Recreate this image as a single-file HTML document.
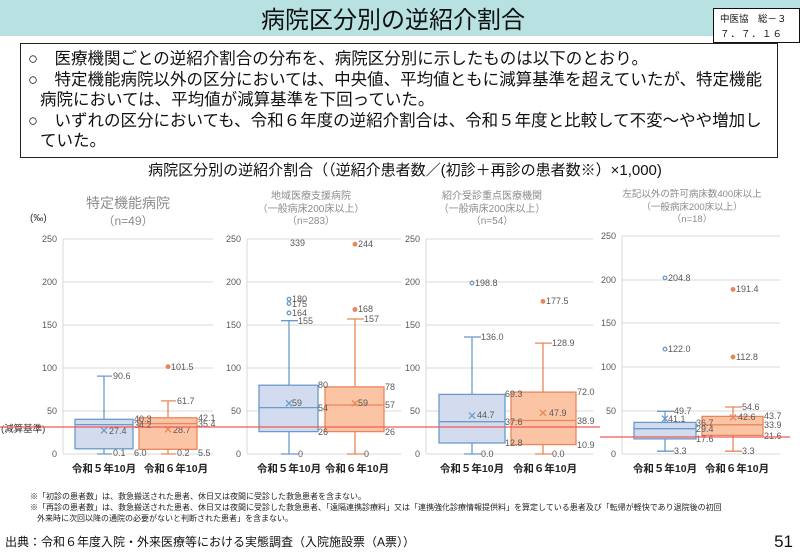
<!DOCTYPE html>
<html><head><meta charset="utf-8"><style>
body{margin:0;width:800px;height:554px;background:#fff;overflow:hidden;font-family:"Liberation Sans","Noto Sans CJK JP",sans-serif;}
svg{position:absolute;left:0;top:0}
</style></head><body>
<svg width="800" height="554" viewBox="0 0 800 554" font-family="Liberation Sans, Noto Sans CJK JP, sans-serif">
<rect x="0" y="0" width="800" height="36" fill="#b8e1e1"/>
<text x="393" y="28" font-size="24" text-anchor="middle" fill="#111">病院区分別の逆紹介割合</text>
<rect x="713.5" y="8.5" width="86" height="34" fill="#fff" stroke="#111"/>
<text x="720" y="22" font-size="9.5" fill="#111">中医協　総－３</text>
<text x="720" y="37" font-size="9.5" fill="#111" letter-spacing="1">７．７．１６</text>
<rect x="20.5" y="43.5" width="757" height="114" fill="#fff" stroke="#222"/>
<g font-size="16.5" fill="#111">
<text x="28" y="64">○　医療機関ごとの逆紹介割合の分布を、病院区分別に示したものは以下のとおり。</text>
<text x="28" y="85">○　特定機能病院以外の区分においては、中央値、平均値ともに減算基準を超えていたが、特定機能</text>
<text x="40" y="105">病院においては、平均値が減算基準を下回っていた。</text>
<text x="28" y="126">○　いずれの区分においても、令和６年度の逆紹介割合は、令和５年度と比較して不変～やや増加し</text>
<text x="40" y="146">ていた。</text>
</g>
<text x="405" y="175" font-size="15" text-anchor="middle" fill="#111">病院区分別の逆紹介割合（（逆紹介患者数／(初診＋再診の患者数※）×1,000)</text>

<!-- grids -->
<g stroke="#d9d9d9" stroke-width="1">
<path d="M63 239H213M63 282H213M63 325H213M63 368H213M63 411H213M63 454H213"/>
<path d="M247 239H401M247 282H401M247 325H401M247 368H401M247 411H401M247 454H401"/>
<path d="M426 239H593M426 282H593M426 325H593M426 368H593M426 411H593M426 454H593"/>
<path d="M622 236H780M622 280H780M622 323H780M622 367H780M622 411H780M622 454H780"/>
<path d="M247 239V454M426 239V454M622 236V454M63 239V454"/>
</g>
<g font-size="9" fill="#595959" text-anchor="end">
<text x="57" y="242">250</text><text x="57" y="285">200</text><text x="57" y="328">150</text><text x="57" y="371">100</text><text x="57" y="414">50</text><text x="57" y="457">0</text>
<text x="241" y="242">250</text><text x="241" y="285">200</text><text x="241" y="328">150</text><text x="241" y="371">100</text><text x="241" y="414">50</text><text x="241" y="457">0</text>
<text x="420" y="242">250</text><text x="420" y="285">200</text><text x="420" y="328">150</text><text x="420" y="371">100</text><text x="420" y="414">50</text><text x="420" y="457">0</text>
<text x="616" y="239">250</text><text x="616" y="283">200</text><text x="616" y="326">150</text><text x="616" y="370">100</text><text x="616" y="414">50</text><text x="616" y="457">0</text>
</g>
<!-- titles -->
<g fill="#8c8c8c" text-anchor="middle">
<text x="128" y="208" font-size="14">特定機能病院</text>
<text x="128" y="225" font-size="12">（n=49）</text>
<text x="311" y="199" font-size="10">地域医療支援病院</text>
<text x="311" y="212" font-size="10">（一般病床200床以上）</text>
<text x="311" y="224" font-size="10">（n=283）</text>
<text x="492" y="199" font-size="10">紹介受診重点医療機関</text>
<text x="492" y="212" font-size="10">（一般病床200床以上）</text>
<text x="492" y="224" font-size="10">（n=54）</text>
<text x="692" y="197" font-size="9.5">左記以外の許可病床数400床以上</text>
<text x="692" y="210" font-size="9.5">（一般病床200床以上）</text>
<text x="692" y="222" font-size="9.5">（n=18）</text>
</g>
<text x="30" y="221" font-size="10" fill="#333">(‰)</text>
<text x="1" y="432" font-size="9.5" fill="#333">(減算基準)</text>

<!-- Chart1 -->
<g stroke="#6a9bc9" stroke-width="1.3" fill="none">
<path d="M104 376.1V419.3M97 376.1H112M104 448.8V454M97 454H112"/>
<rect x="75" y="419.3" width="58" height="29.5" fill="#d3dcee"/>
<path d="M75 424.6H133"/><path d="M101 427.4l6 6M107 427.4l-6 6"/>
</g>
<g stroke="#e8875a" stroke-width="1.3" fill="none">
<path d="M168 400.9V417.8M161 400.9H176M168 449.3V454M161 454H176"/>
<rect x="139" y="417.8" width="58" height="31.5" fill="#fbc4a4"/>
<path d="M139 423.6H197"/><path d="M165 426.3l6 6M171 426.3l-6 6"/>
<circle cx="168" cy="366.7" r="1.8" fill="#e8875a"/>
</g>
<g font-size="9" fill="#595959">
<text x="113" y="379">90.6</text><text x="134" y="422">40.3</text><text x="134" y="428">34.2</text><text x="109" y="434">27.4</text><text x="113" y="456">0.1</text><text x="134" y="456">6.0</text>
<text x="171" y="370">101.5</text><text x="177" y="404">61.7</text><text x="198" y="421">42.1</text><text x="198" y="427">35.4</text><text x="173" y="433">28.7</text><text x="177" y="456">0.2</text><text x="198" y="456">5.5</text>
</g>

<!-- Chart2 -->
<g stroke="#6a9bc9" stroke-width="1.3" fill="none">
<path d="M289 320.7V385.2M281 320.7H298M289 431.6V454M281 454H298"/>
<rect x="259" y="385.2" width="59" height="46.4" fill="#d3dcee"/>
<path d="M259 407.6H318"/><path d="M286 400.3l6 6M292 400.3l-6 6"/>
<circle cx="289" cy="313" r="1.8"/><circle cx="289" cy="303.5" r="1.8"/><circle cx="289" cy="299.2" r="1.8"/>
</g>
<g stroke="#e8875a" stroke-width="1.3" fill="none">
<path d="M355 319V386.9M347 319H364M355 431.6V454M347 454H364"/>
<rect x="325" y="386.9" width="59" height="44.7" fill="#fbc4a4"/>
<path d="M325 405H384"/><path d="M352 400.3l6 6M358 400.3l-6 6"/>
<circle cx="355" cy="309.5" r="1.8" fill="#e8875a"/><circle cx="355" cy="244.2" r="1.8" fill="#e8875a"/>
</g>
<g font-size="9" fill="#595959">
<text x="290" y="246">339</text><text x="292" y="302">180</text><text x="292" y="307">175</text><text x="292" y="316">164</text><text x="298" y="324">155</text>
<text x="318" y="388">80</text><text x="292" y="406">59</text><text x="318" y="411">54</text><text x="318" y="435">26</text><text x="298" y="457">0</text>
<text x="358" y="247">244</text><text x="358" y="312">168</text><text x="364" y="322">157</text>
<text x="385" y="390">78</text><text x="358" y="406">59</text><text x="385" y="408">57</text><text x="385" y="435">26</text><text x="364" y="457">0</text>
</g>

<!-- Chart3 -->
<g stroke="#6a9bc9" stroke-width="1.3" fill="none">
<path d="M472 337V394.4M464 337H481M472 443V454M464 454H481"/>
<rect x="439" y="394.4" width="66" height="48.6" fill="#d3dcee"/>
<path d="M439 421.7H505"/><path d="M469 412.6l6 6M475 412.6l-6 6"/>
<circle cx="472" cy="283" r="1.8"/>
</g>
<g stroke="#e8875a" stroke-width="1.3" fill="none">
<path d="M543 343.1V392.1M535 343.1H552M543 444.6V454M535 454H552"/>
<rect x="511" y="392.1" width="65" height="52.5" fill="#fbc4a4"/>
<path d="M511 420.5H576"/><path d="M540 409.8l6 6M546 409.8l-6 6"/>
<circle cx="543" cy="301.4" r="1.8" fill="#e8875a"/>
</g>
<g font-size="9" fill="#595959">
<text x="475" y="286">198.8</text><text x="481" y="340">136.0</text><text x="505" y="397">69.3</text><text x="477" y="418">44.7</text><text x="505" y="425">37.6</text><text x="505" y="446">12.8</text><text x="481" y="457">0.0</text>
<text x="546" y="304">177.5</text><text x="552" y="346">128.9</text><text x="577" y="395">72.0</text><text x="549" y="416">47.9</text><text x="577" y="424">38.9</text><text x="577" y="448">10.9</text><text x="552" y="457">0.0</text>
</g>

<!-- Chart4 -->
<g stroke="#6a9bc9" stroke-width="1.3" fill="none">
<path d="M665 411.3V422.4M657 411.3H674M665 438.9V451.2M657 451.2H674"/>
<rect x="634" y="422.4" width="62" height="16.5" fill="#d3dcee"/>
<path d="M634 428.7H696"/><path d="M662 415.7l6 6M668 415.7l-6 6"/>
<circle cx="665" cy="349.1" r="1.8"/><circle cx="665" cy="277.9" r="1.8"/>
</g>
<g stroke="#e8875a" stroke-width="1.3" fill="none">
<path d="M733 407V416.4M725 407H742M733 435.4V451.2M725 451.2H742"/>
<rect x="702" y="416.4" width="61" height="19" fill="#fbc4a4"/>
<path d="M702 424.8H763"/><path d="M730 414.4l6 6M736 414.4l-6 6"/>
<circle cx="733" cy="357" r="1.8" fill="#e8875a"/><circle cx="733" cy="289.4" r="1.8" fill="#e8875a"/>
</g>
<g font-size="9" fill="#595959">
<text x="668" y="281">204.8</text><text x="668" y="352">122.0</text><text x="674" y="414">49.7</text><text x="668" y="422">41.1</text><text x="696" y="426">36.7</text><text x="696" y="432">29.4</text><text x="696" y="442">17.6</text><text x="674" y="454">3.3</text>
<text x="736" y="292">191.4</text><text x="736" y="360">112.8</text><text x="742" y="410">54.6</text><text x="738" y="420">42.6</text><text x="764" y="419">43.7</text><text x="764" y="428">33.9</text><text x="764" y="439">21.6</text><text x="742" y="454">3.3</text>
</g>

<!-- red lines -->
<path d="M0 427H600" stroke="#f05a5a" stroke-width="1.3"/>
<path d="M600 437H790" stroke="#f05a5a" stroke-width="1.3"/>

<!-- x labels -->
<g font-size="10.5" font-weight="bold" fill="#222" text-anchor="middle">
<text x="104" y="472">令和５年10月</text><text x="176" y="472">令和６年10月</text>
<text x="289" y="472">令和５年10月</text><text x="357" y="472">令和６年10月</text>
<text x="472" y="472">令和５年10月</text><text x="545" y="472">令和６年10月</text>
<text x="665" y="472">令和５年10月</text><text x="737" y="472">令和６年10月</text>
</g>

<g font-size="8" fill="#222">
<text x="30" y="499">※「初診の患者数」は、救急搬送された患者、休日又は夜間に受診した救急患者を含まない。</text>
<text x="30" y="510">※「再診の患者数」は、救急搬送された患者、休日又は夜間に受診した救急患者、「遠隔連携診療料」又は「連携強化診療情報提供料」を算定している患者及び「転帰が軽快であり退院後の初回</text>
<text x="37" y="521">外来時に次回以降の通院の必要がないと判断された患者」を含まない。</text>
</g>
<text x="5" y="546" font-size="12" fill="#111">出典：令和６年度入院・外来医療等における実態調査（入院施設票（A票））</text>
<text x="793" y="547" font-size="17" fill="#111" text-anchor="end">51</text>
</svg>
</body></html>
